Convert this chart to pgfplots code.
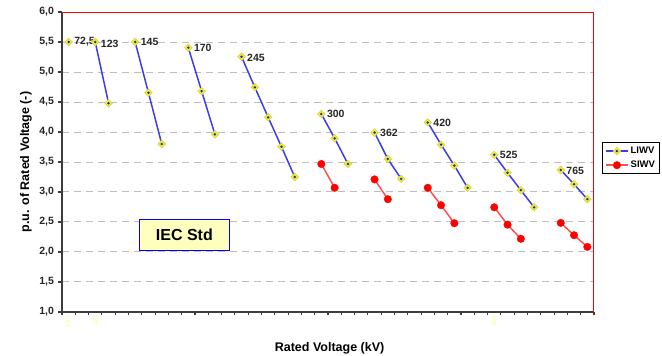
\documentclass[border=0pt]{standalone}
\usepackage{pgfplots}
\pgfplotsset{compat=1.18}
\usepackage{fontspec}
\setmainfont{Liberation Sans}
\definecolor{liwvyellow}{RGB}{240,240,60}
\definecolor{liwvedge}{RGB}{215,215,60}
\definecolor{liwvdot}{RGB}{40,40,170}
\definecolor{liwvline}{RGB}{60,60,235}
\definecolor{siwvline}{RGB}{255,80,80}
\definecolor{gridgray}{RGB}{190,190,190}
\definecolor{axisgray}{RGB}{60,60,60}
\definecolor{iecfill}{RGB}{255,255,190}
\pgfdeclareplotmark{liwv}{%
  \pgfpathmoveto{\pgfqpoint{0pt}{\pgfplotmarksize}}%
  \pgfpathlineto{\pgfqpoint{\pgfplotmarksize}{0pt}}%
  \pgfpathlineto{\pgfqpoint{0pt}{-\pgfplotmarksize}}%
  \pgfpathlineto{\pgfqpoint{-\pgfplotmarksize}{0pt}}%
  \pgfpathclose
  \pgfsetfillcolor{liwvyellow}%
  \pgfsetstrokecolor{liwvedge}%
  \pgfsetlinewidth{0.7pt}%
  \pgfusepath{fill,stroke}%
  \pgfpathcircle{\pgfpointorigin}{0.36\pgfplotmarksize}%
  \pgfsetfillcolor{liwvdot}%
  \pgfusepath{fill}%
}
\begin{document}
\begin{tikzpicture}
\useasboundingbox (-62pt,-44pt) rectangle (600pt,312pt);
\begin{axis}[
  scale only axis, width=532pt, height=300pt,
  at={(0,0)}, anchor=south west,
  xmin=-0.5, xmax=39.5, ymin=1, ymax=6,
  axis x line*=bottom, axis y line*=left,
  axis line style={axisgray, line width=1.6pt},
  xtick={-0.5,0.5,...,39.5}, xticklabels={},
  ytick={1,1.5,2,2.5,3,3.5,4,4.5,5,5.5,6},
  tick align=outside, major tick length=3.5pt,
  tick style={axisgray, line width=1.1pt},
  ymajorgrids, grid style={gridgray, dash pattern=on 7pt off 5pt, line width=1pt},
  /pgf/number format/fixed, /pgf/number format/fixed zerofill,
  /pgf/number format/precision=1, /pgf/number format/use comma,
  /pgf/number format/assume math mode=true,
  yticklabel style={font=\bfseries\fontsize{10.5}{11}\selectfont, text=black!85, xshift=-1pt},
  extra x ticks={0,2,32}, extra x tick labels={{72,5},123,525},
  extra x tick style={major tick length=0pt, ticklabel style={text=yellow!35, rotate=90, anchor=east, font=\bfseries\fontsize{6}{7}\selectfont}},
  xlabel={Rated Voltage (kV)},
  xlabel style={at={(axis description cs:0.503,-0.1)}, anchor=north, inner sep=0pt, font=\bfseries\fontsize{12.5}{14}\selectfont},
  ylabel={p.u. of Rated Voltage (-)},
  ylabel style={at={(axis description cs:-0.0564,0.5)}, rotate=0, anchor=south, inner sep=0pt, font=\bfseries\fontsize{12.5}{14}\selectfont},
  unbounded coords=jump,
  legend cell align=left,
  legend style={at={(rel axis cs:1.015,0.567)}, anchor=north west, draw=black, line width=1.4pt, font=\bfseries\fontsize{9.5}{11}\selectfont, inner sep=2.5pt, row sep=2pt},
  legend image code/.code={\draw[mark repeat=2,mark phase=2] plot coordinates {(0pt,0pt) (11pt,0pt) (22pt,0pt)};},
]
\addplot[liwvline, line width=1.5pt, mark=liwv, mark size=3.8pt] coordinates {
  (0,5.5) (1,nan)
  (2,5.5) (3,4.48) (4,nan)
  (5,5.5) (6,4.655) (7,3.8) (8,nan)
  (9,5.405) (10,4.68) (11,3.96) (12,nan)
  (13,5.255) (14,4.745) (15,4.245) (16,3.755) (17,3.25) (18,nan)
  (19,4.3) (20,3.895) (21,3.467) (22,nan)
  (23,3.99) (24,3.55) (25,3.22) (26,nan)
  (27,4.16) (28,3.79) (29,3.44) (30,3.07) (31,nan)
  (32,3.62) (33,3.32) (34,3.03) (35,2.745) (36,nan)
  (37,3.367) (38,3.13) (39,2.88)
};
\addlegendentry{LIWV}
\addplot[siwvline, line width=1.5pt, mark=*, mark size=3.8pt, mark options={fill=red, draw=red, line width=0.3pt}] coordinates {
  (19,3.467) (20,3.07) (21,nan)
  (23,3.21) (24,2.88) (25,nan)
  (27,3.07) (28,2.78) (29,2.48) (30,nan)
  (32,2.745) (33,2.455) (34,2.22) (35,nan)
  (37,2.485) (38,2.28) (39,2.085)
};
\addlegendentry{SIWV}
\begin{scope}[every node/.style={anchor=west, inner sep=0pt, xshift=5.5pt, text=black!85, font=\bfseries\fontsize{10.5}{12}\selectfont}]
\node at (axis cs:0,5.5) {72,5};
\node at (axis cs:2,5.47) {123};
\node at (axis cs:5,5.5) {145};
\node at (axis cs:9,5.4) {170};
\node at (axis cs:13,5.24) {245};
\node at (axis cs:19,4.3) {300};
\node at (axis cs:23,3.98) {362};
\node at (axis cs:27,4.15) {420};
\node at (axis cs:32,3.62) {525};
\node at (axis cs:37,3.36) {765};
\end{scope}
\node[draw=blue, fill=iecfill, line width=1.2pt, minimum width=90pt, minimum height=31pt, inner sep=0pt, font=\bfseries\fontsize{16}{18}\selectfont] at (axis cs:8.7,2.283) {IEC Std};
\draw[red, line width=1.2pt] (rel axis cs:0,1) -- (rel axis cs:1,1) -- (rel axis cs:1,0);
\end{axis}
\end{tikzpicture}
\end{document}
